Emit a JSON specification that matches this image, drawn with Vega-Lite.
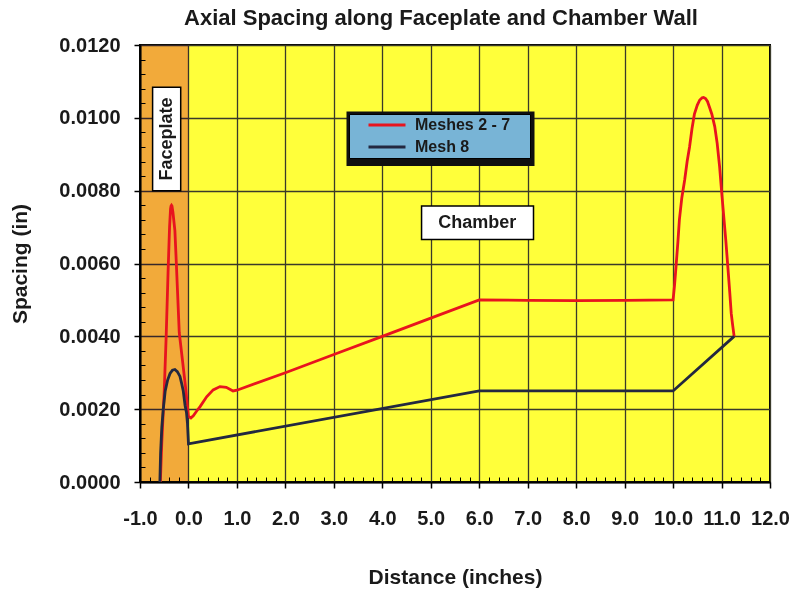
{
  "$schema": "https://vega.github.io/schema/vega-lite/v6.json",
  "width": 630,
  "height": 437,
  "autosize": {"type": "none"},
  "padding": {"left": 140, "top": 45, "right": 23, "bottom": 110},
  "background": "white",
  "config": {
    "font": "Liberation Sans",
    "view": {"fill": "#ffff3a", "stroke": "#000000", "strokeWidth": 2}
  },
  "title": {"text": "Axial Spacing along Faceplate and Chamber Wall", "fontSize": 22, "fontWeight": "bold", "color": "#1a1a1a", "offset": 5, "anchor": "middle", "dx": -14},
  "resolve": {"axis": {"x": "independent", "y": "independent"}},
  "datasets": {
    "regions": [{"region": "Faceplate", "start": -1, "end": 0}],
    "legendFrame": [{"item": "legend frame", "x1": 3.261, "x2": 7.1405, "y1": 0.008677, "y2": 0.010174}],
    "labels": [
      {"label": "Faceplate", "x1": -0.74, "x2": -0.16, "y1": 0.0080, "y2": 0.01084, "xc": -0.449, "yc": 0.00942},
      {"label": "Chamber", "x1": 4.81, "x2": 7.12, "y1": 0.00666, "y2": 0.00758, "xc": 5.96, "yc": 0.00712}
    ],
    "series": [
      {"series": "Meshes 2 - 7", "x": -0.58, "y": 0},
      {"series": "Meshes 2 - 7", "x": -0.55, "y": 0.0011},
      {"series": "Meshes 2 - 7", "x": -0.5, "y": 0.0025},
      {"series": "Meshes 2 - 7", "x": -0.46, "y": 0.0040},
      {"series": "Meshes 2 - 7", "x": -0.42, "y": 0.0058},
      {"series": "Meshes 2 - 7", "x": -0.39, "y": 0.0070},
      {"series": "Meshes 2 - 7", "x": -0.37, "y": 0.0075},
      {"series": "Meshes 2 - 7", "x": -0.36, "y": 0.00758},
      {"series": "Meshes 2 - 7", "x": -0.35, "y": 0.0076},
      {"series": "Meshes 2 - 7", "x": -0.34, "y": 0.00758},
      {"series": "Meshes 2 - 7", "x": -0.32, "y": 0.0074},
      {"series": "Meshes 2 - 7", "x": -0.28, "y": 0.0069},
      {"series": "Meshes 2 - 7", "x": -0.25, "y": 0.0060},
      {"series": "Meshes 2 - 7", "x": -0.19, "y": 0.0041},
      {"series": "Meshes 2 - 7", "x": -0.12, "y": 0.0033},
      {"series": "Meshes 2 - 7", "x": -0.06, "y": 0.0026},
      {"series": "Meshes 2 - 7", "x": 0.0, "y": 0.0018},
      {"series": "Meshes 2 - 7", "x": 0.05, "y": 0.00176},
      {"series": "Meshes 2 - 7", "x": 0.1, "y": 0.00182},
      {"series": "Meshes 2 - 7", "x": 0.17, "y": 0.00195},
      {"series": "Meshes 2 - 7", "x": 0.24, "y": 0.00207},
      {"series": "Meshes 2 - 7", "x": 0.375, "y": 0.00234},
      {"series": "Meshes 2 - 7", "x": 0.51, "y": 0.00253},
      {"series": "Meshes 2 - 7", "x": 0.65, "y": 0.00262},
      {"series": "Meshes 2 - 7", "x": 0.78, "y": 0.0026},
      {"series": "Meshes 2 - 7", "x": 0.92, "y": 0.0025},
      {"series": "Meshes 2 - 7", "x": 1.0, "y": 0.00252},
      {"series": "Meshes 2 - 7", "x": 2.0, "y": 0.0030},
      {"series": "Meshes 2 - 7", "x": 3.0, "y": 0.0035},
      {"series": "Meshes 2 - 7", "x": 4.0, "y": 0.0040},
      {"series": "Meshes 2 - 7", "x": 5.0, "y": 0.0045},
      {"series": "Meshes 2 - 7", "x": 6.0, "y": 0.0050},
      {"series": "Meshes 2 - 7", "x": 7.0, "y": 0.00499},
      {"series": "Meshes 2 - 7", "x": 8.0, "y": 0.00498},
      {"series": "Meshes 2 - 7", "x": 9.0, "y": 0.00499},
      {"series": "Meshes 2 - 7", "x": 10.0, "y": 0.0050},
      {"series": "Meshes 2 - 7", "x": 10.03, "y": 0.0054},
      {"series": "Meshes 2 - 7", "x": 10.06, "y": 0.0059},
      {"series": "Meshes 2 - 7", "x": 10.1, "y": 0.0066},
      {"series": "Meshes 2 - 7", "x": 10.13, "y": 0.0072},
      {"series": "Meshes 2 - 7", "x": 10.18, "y": 0.0078},
      {"series": "Meshes 2 - 7", "x": 10.24, "y": 0.0083},
      {"series": "Meshes 2 - 7", "x": 10.29, "y": 0.0088},
      {"series": "Meshes 2 - 7", "x": 10.34, "y": 0.0092},
      {"series": "Meshes 2 - 7", "x": 10.39, "y": 0.0097},
      {"series": "Meshes 2 - 7", "x": 10.44, "y": 0.0101},
      {"series": "Meshes 2 - 7", "x": 10.5, "y": 0.01035},
      {"series": "Meshes 2 - 7", "x": 10.55, "y": 0.01049},
      {"series": "Meshes 2 - 7", "x": 10.6, "y": 0.01055},
      {"series": "Meshes 2 - 7", "x": 10.63, "y": 0.01056},
      {"series": "Meshes 2 - 7", "x": 10.67, "y": 0.01053},
      {"series": "Meshes 2 - 7", "x": 10.71, "y": 0.01045},
      {"series": "Meshes 2 - 7", "x": 10.75, "y": 0.0103},
      {"series": "Meshes 2 - 7", "x": 10.8, "y": 0.0101},
      {"series": "Meshes 2 - 7", "x": 10.86, "y": 0.00976},
      {"series": "Meshes 2 - 7", "x": 10.91, "y": 0.0093},
      {"series": "Meshes 2 - 7", "x": 10.96, "y": 0.00866},
      {"series": "Meshes 2 - 7", "x": 11.0, "y": 0.0080},
      {"series": "Meshes 2 - 7", "x": 11.04, "y": 0.00738},
      {"series": "Meshes 2 - 7", "x": 11.09, "y": 0.0066},
      {"series": "Meshes 2 - 7", "x": 11.13, "y": 0.00591},
      {"series": "Meshes 2 - 7", "x": 11.17, "y": 0.0052},
      {"series": "Meshes 2 - 7", "x": 11.2, "y": 0.00463},
      {"series": "Meshes 2 - 7", "x": 11.23, "y": 0.0043},
      {"series": "Meshes 2 - 7", "x": 11.26, "y": 0.0040},
      {"series": "Mesh 8", "x": -0.59, "y": 0},
      {"series": "Mesh 8", "x": -0.575, "y": 0.0008},
      {"series": "Mesh 8", "x": -0.55, "y": 0.0015},
      {"series": "Mesh 8", "x": -0.52, "y": 0.0020},
      {"series": "Mesh 8", "x": -0.48, "y": 0.0025},
      {"series": "Mesh 8", "x": -0.43, "y": 0.0028},
      {"series": "Mesh 8", "x": -0.38, "y": 0.00298},
      {"series": "Mesh 8", "x": -0.33, "y": 0.00307},
      {"series": "Mesh 8", "x": -0.28, "y": 0.00309},
      {"series": "Mesh 8", "x": -0.23, "y": 0.00303},
      {"series": "Mesh 8", "x": -0.175, "y": 0.0029},
      {"series": "Mesh 8", "x": -0.14, "y": 0.0027},
      {"series": "Mesh 8", "x": -0.107, "y": 0.0025},
      {"series": "Mesh 8", "x": -0.07, "y": 0.0021},
      {"series": "Mesh 8", "x": -0.04, "y": 0.0019},
      {"series": "Mesh 8", "x": -0.02, "y": 0.0016},
      {"series": "Mesh 8", "x": 0.0, "y": 0.00105},
      {"series": "Mesh 8", "x": 6.0, "y": 0.0025},
      {"series": "Mesh 8", "x": 10.0, "y": 0.0025},
      {"series": "Mesh 8", "x": 11.26, "y": 0.0040}
    ]
  },
  "layer": [
    {
      "data": {"name": "regions"},
      "mark": {"type": "rect", "fill": "#f2aaff", "blend": "multiply"},
      "encoding": {
        "x": {"field": "start", "type": "quantitative", "scale": {"domain": [-1, 12], "nice": false, "zero": false},
          "axis": {"orient": "bottom", "title": null, "labels": false, "grid": false, "domain": false, "tickSize": -5, "tickColor": "#000000", "tickWidth": 1,
            "values": [-0.8,-0.6,-0.4,-0.2,0.2,0.4,0.6,0.8,1.2,1.4,1.6,1.8,2.2,2.4,2.6,2.8,3.2,3.4,3.6,3.8,4.2,4.4,4.6,4.8,5.2,5.4,5.6,5.8,6.2,6.4,6.6,6.8,7.2,7.4,7.6,7.8,8.2,8.4,8.6,8.8,9.2,9.4,9.6,9.8,10.2,10.4,10.6,10.8,11.2,11.4,11.6,11.8]}},
        "x2": {"field": "end"}
      }
    },
    {
      "data": {"name": "series"},
      "mark": {"type": "line", "strokeWidth": 2.8, "interpolate": "linear"},
      "encoding": {
        "x": {"field": "x", "type": "quantitative", "scale": {"domain": [-1, 12], "nice": false, "zero": false},
          "axis": {"orient": "bottom", "title": "Distance (inches)", "titleFontSize": 21, "titleFontWeight": "bold", "titleColor": "#1a1a1a", "titlePadding": 38,
            "values": [-1,0,1,2,3,4,5,6,7,8,9,10,11,12],
            "labelExpr": "datum.value < 0 ? '-' + format(-datum.value, '.1f') : format(datum.value, '.1f')",
            "labelFontSize": 20, "labelFontWeight": "bold", "labelColor": "#1a1a1a", "labelPadding": 20, "labelFlush": false, "labelOverlap": false,
            "grid": true, "gridColor": "#3a3a2a", "gridWidth": 1.3, "gridOpacity": 1,
            "domain": true, "domainColor": "#000000", "domainWidth": 2, "tickSize": 6, "tickColor": "#000000", "tickWidth": 1.5}},
        "y": {"field": "y", "type": "quantitative", "scale": {"domain": [0, 0.012], "nice": false},
          "axis": {"orient": "left", "title": "Spacing (in)", "titleFontSize": 21, "titleFontWeight": "bold", "titleColor": "#1a1a1a", "titlePadding": 28,
            "values": [0, 0.002, 0.004, 0.006, 0.008, 0.010, 0.012], "format": ".4f", "labelFontSize": 20, "labelFontWeight": "bold", "labelColor": "#1a1a1a", "labelPadding": 14, "labelFlush": false, "labelOverlap": false,
            "grid": true, "gridColor": "#3a3a2a", "gridWidth": 1.3, "gridOpacity": 1,
            "domain": true, "domainColor": "#000000", "domainWidth": 2, "tickSize": 6, "tickColor": "#000000", "tickWidth": 1.5}},
        "color": {"field": "series", "type": "nominal",
          "scale": {"domain": ["Meshes 2 - 7", "Mesh 8"], "range": ["#e8141e", "#232840"]},
          "legend": {"title": null, "orient": "none", "legendX": 209, "legendY": 69, "fillColor": "#78b4d6", "strokeColor": "#000000",
            "padding": 3, "symbolOffset": 27, "symbolType": "M-3,0H3", "symbolSize": 152, "symbolStrokeWidth": 3,
            "labelFontSize": 16, "labelFontWeight": "bold", "labelColor": "#1a1a1a", "labelOffset": 20, "rowPadding": 6,
            "labelExpr": "datum.label + ' \u2800'"}}
      }
    },
    {
      "data": {"name": "legendFrame"},
      "mark": {"type": "rect", "fill": "#101010"},
      "encoding": {
        "x": {"field": "x1", "type": "quantitative", "axis": null},
        "x2": {"field": "x2"},
        "y": {"field": "y1", "type": "quantitative", "axis": null},
        "y2": {"field": "y2"}
      }
    },
    {
      "data": {"name": "labels"},
      "mark": {"type": "rect", "fill": "#ffffff", "stroke": "#000000", "strokeWidth": 1.5},
      "encoding": {
        "x": {"field": "x1", "type": "quantitative", "axis": null},
        "x2": {"field": "x2"},
        "y": {"field": "y1", "type": "quantitative", "axis": null},
        "y2": {"field": "y2"}
      }
    },
    {
      "data": {"name": "labels"},
      "transform": [{"filter": "datum.label === 'Chamber'"}],
      "mark": {"type": "text", "fontSize": 18, "fontWeight": "bold", "color": "#1a1a1a", "align": "center", "baseline": "middle"},
      "encoding": {
        "x": {"field": "xc", "type": "quantitative", "axis": null},
        "y": {"field": "yc", "type": "quantitative",
          "axis": {"orient": "left", "title": null, "labels": false, "grid": false, "domain": false, "tickSize": -5, "tickColor": "#000000", "tickWidth": 1,
            "values": [0.0004,0.0008,0.0012,0.0016,0.0024,0.0028,0.0032,0.0036,0.0044,0.0048,0.0052,0.0056,0.0064,0.0068,0.0072,0.0076,0.0084,0.0088,0.0092,0.0096,0.0104,0.0108,0.0112,0.0116]}},
        "text": {"field": "label"}
      }
    },
    {
      "data": {"name": "labels"},
      "transform": [{"filter": "datum.label === 'Faceplate'"}],
      "mark": {"type": "text", "fontSize": 18, "fontWeight": "bold", "color": "#1a1a1a", "align": "center", "baseline": "middle", "angle": 270},
      "encoding": {
        "x": {"field": "xc", "type": "quantitative", "axis": null},
        "y": {"field": "yc", "type": "quantitative", "axis": null},
        "text": {"field": "label"}
      }
    }
  ]
}
